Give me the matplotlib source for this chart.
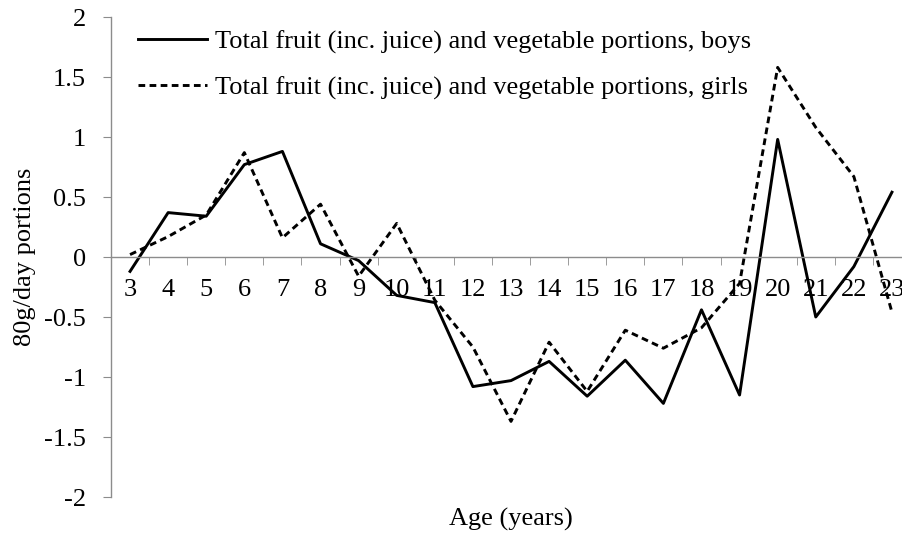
import matplotlib
matplotlib.use("Agg")
import matplotlib.pyplot as plt
from matplotlib.ticker import FixedLocator

ages = list(range(3, 24))
boys = [-0.12, 0.37, 0.34, 0.77, 0.88, 0.11, -0.03, -0.32, -0.38, -1.08, -1.03,
        -0.87, -1.16, -0.86, -1.22, -0.44, -1.15, 0.98, -0.50, -0.08, 0.54]
girls = [0.02, 0.17, 0.35, 0.87, 0.16, 0.44, -0.16, 0.28, -0.36, -0.75, -1.37,
         -0.71, -1.12, -0.61, -0.76, -0.59, -0.22, 1.58, 1.08, 0.67, -0.46]
yticks = [-2, -1.5, -1, -0.5, 0, 0.5, 1, 1.5, 2]
ytick_labels = ["-2", "-1.5", "-1", "-0.5", "0", "0.5", "1", "1.5", "2"]
label_boys = "Total fruit (inc. juice) and vegetable portions, boys"
label_girls = "Total fruit (inc. juice) and vegetable portions, girls"

plt.rcParams['font.family'] = ['Liberation Serif', 'DejaVu Serif']
plt.rcParams['axes.unicode_minus'] = False
FS = 19

W, H = 903, 536
fig = plt.figure(figsize=(W / 100, H / 100), dpi=100)
left, right, top, bottom = 111, 911, 17, 497
ax = fig.add_axes([left / W, 1 - bottom / H, (right - left) / W, (bottom - top) / H])

x = list(range(len(ages)))
ax.plot(x, boys, color='black', lw=2.1, label=label_boys)
ax.plot(x, girls, color='black', lw=2.1, linestyle=(0, (2.3, 1.5)), label=label_girls)

ax.set_xlim(-0.5, len(ages) - 0.5)
ax.set_ylim(-2, 2)

gray = '#8c8c8c'
for s in ['top', 'right']:
    ax.spines[s].set_visible(False)
ax.spines['left'].set_color(gray)
ax.spines['bottom'].set_color(gray)
ax.spines['bottom'].set_position(('data', 0))
ax.spines['left'].set_linewidth(1.0)
ax.spines['bottom'].set_linewidth(1.0)

ax.set_yticks(yticks)
ax.set_yticklabels(ytick_labels)
ax.tick_params(axis='y', direction='out', length=6, color=gray, labelsize=FS, pad=12)

ax.set_xticks(x)
ax.set_xticklabels([str(a) for a in ages])
ax.xaxis.set_minor_locator(FixedLocator([i + 0.5 for i in range(len(ages))]))
ax.tick_params(axis='x', which='major', length=0, labelsize=FS, pad=16)
ax.tick_params(axis='x', which='minor', direction='out', length=6, color=gray)

ax.set_xlabel("Age (years)", fontsize=FS)
ax.xaxis.set_label_coords(0.5, -0.023)
ax.set_ylabel("80g/day portions", fontsize=FS)
ax.yaxis.set_label_coords(-0.094, 0.5)

leg = ax.legend(loc='upper left', bbox_to_anchor=(138 / W, 1 - 30 / H),
                bbox_transform=fig.transFigure, frameon=False, fontsize=FS,
                handlelength=2.6, handletextpad=0.3, labelspacing=0.83,
                borderaxespad=0, borderpad=0)

fig.savefig("out.png", dpi=100)
